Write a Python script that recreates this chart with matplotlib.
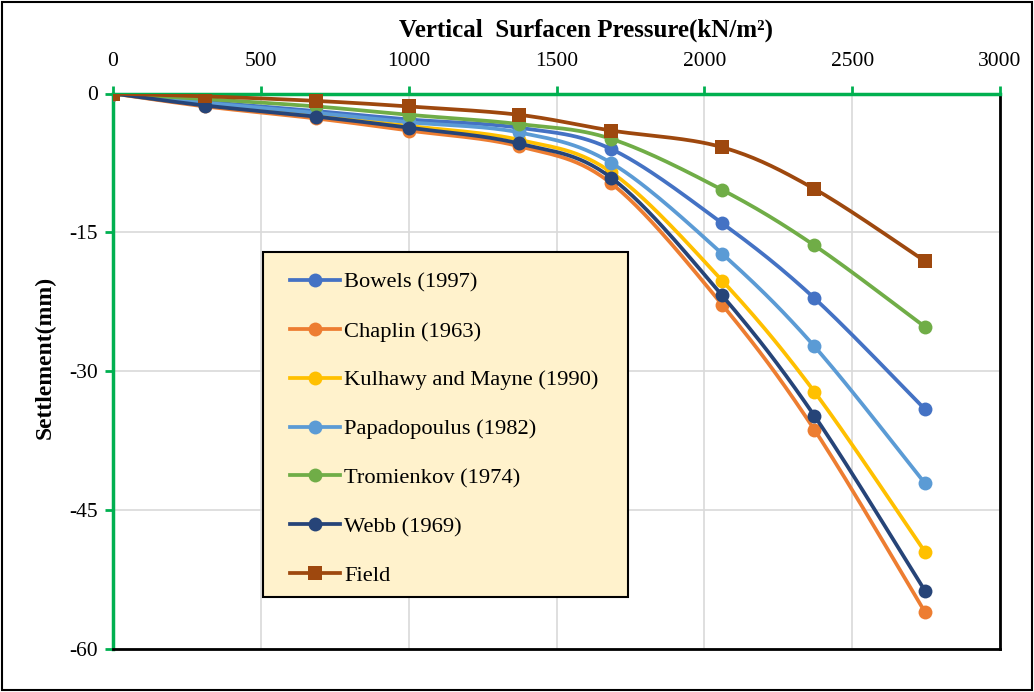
import numpy as np
import matplotlib
matplotlib.use("Agg")
import matplotlib.pyplot as plt
from matplotlib.patches import Rectangle

# ---- data ----
pressure = [0, 312, 688, 1000, 1373, 1685, 2060, 2372, 2746]
bowels = [0, -0.9, -1.9, -2.8, -3.7, -6.0, -14.0, -22.1, -34.1]
chaplin = [0, -1.4, -2.7, -4.0, -5.7, -9.7, -22.8, -36.3, -56.0]
kulhawy = [0, -1.2, -2.4, -3.5, -5.0, -8.5, -20.2, -32.2, -49.5]
papadopoulus = [0, -1.0, -2.1, -3.1, -4.2, -7.5, -17.3, -27.3, -42.1]
tromienkov = [0, -0.6, -1.4, -2.3, -3.3, -4.9, -10.4, -16.4, -25.2]
webb = [0, -1.3, -2.5, -3.7, -5.4, -9.1, -21.8, -34.8, -53.7]
field = [0, -0.3, -0.8, -1.4, -2.3, -4.0, -5.8, -10.3, -18.1]

series_names = ["Bowels (1997)", "Chaplin (1963)", "Kulhawy and Mayne (1990)",
                "Papadopoulus (1982)", "Tromienkov (1974)", "Webb (1969)", "Field"]
series_vals = [bowels, chaplin, kulhawy, papadopoulus, tromienkov, webb, field]
colors = ["#4472C4", "#ED7D31", "#FFC000", "#5B9BD5", "#70AD47", "#264478", "#9E480E"]
markers = ["o", "o", "o", "o", "o", "o", "s"]

xticks = [0, 500, 1000, 1500, 2000, 2500, 3000]
yticks = [0, -15, -30, -45, -60]


def smooth(x, y, n=30):
    """Catmull-Rom smoothing through the points (Excel-style smoothed line)."""
    P = np.column_stack([x, y]).astype(float)
    P = np.vstack([P[0], P, P[-1]])
    out = []
    for i in range(1, len(P) - 2):
        p0, p1, p2, p3 = P[i - 1], P[i], P[i + 1], P[i + 2]
        t = np.linspace(0, 1, n, endpoint=False)[:, None]
        seg = 0.5 * ((2 * p1) + (-p0 + p2) * t + (2 * p0 - 5 * p1 + 4 * p2 - p3) * t ** 2
                     + (-p0 + 3 * p1 - 3 * p2 + p3) * t ** 3)
        out.append(seg)
    out.append(P[-2][None, :])
    out = np.vstack(out)
    return out[:, 0], out[:, 1]


plt.rcParams['font.family'] = ['Liberation Serif', 'DejaVu Serif']
plt.rcParams['axes.unicode_minus'] = False

W, H = 1034, 692
fig = plt.figure(figsize=(W / 100, H / 100), dpi=100)
ax = fig.add_axes([113 / W, 1 - 649 / H, 887 / W, 555.5 / H])

green = "#00B050"
handles = []
for name, vals, c, m in zip(series_names, series_vals, colors, markers):
    sx, sy = smooth(pressure, vals)
    ax.plot(sx, sy, color=c, lw=2.7, solid_capstyle='round', zorder=3)
    ms = 10 if m == "o" else 10.5
    ax.plot(pressure, vals, linestyle='none', marker=m, color=c, ms=ms,
            markeredgewidth=0, zorder=3)
    h, = ax.plot([], [], color=c, lw=2.7, marker=m, ms=ms, markeredgewidth=0)
    handles.append(h)

ax.set_xlim(0, 3000)
ax.set_ylim(-60, 0)
ax.set_xticks(xticks)
ax.set_yticks(yticks)
ax.xaxis.tick_top()
ax.xaxis.set_label_position('top')
ax.tick_params(axis='x', direction='out', length=6, width=2, color=green,
               labelsize=15.5, pad=10)
ax.tick_params(axis='y', direction='out', length=6, width=2, color=green,
               labelsize=15.5, pad=5)
ax.grid(True, color="#D9D9D9", lw=1.2, zorder=0)
ax.set_axisbelow(True)

ax.spines['top'].set_color(green)
ax.spines['top'].set_linewidth(2.5)
ax.spines['left'].set_color(green)
ax.spines['left'].set_linewidth(2.5)
ax.spines['right'].set_color('black')
ax.spines['right'].set_linewidth(2)
ax.spines['bottom'].set_color('black')
ax.spines['bottom'].set_linewidth(2)
ax.spines['top'].set_zorder(2.5)
ax.spines['left'].set_zorder(2.5)

fig.text(586 / W, 1 - 30 / H, "Vertical  Surfacen Pressure(kN/m²)",
         ha='center', va='center', fontsize=18, fontweight='bold')
fig.text(45 / W, 1 - 357 / H, "Settlement(mm)", rotation=90,
         ha='center', va='center', fontsize=17, fontweight='bold')

# legend background box
fig.patches.append(Rectangle((263 / W, 1 - 597 / H), 365 / W, 345 / H,
                             transform=fig.transFigure, facecolor="#FFF2CC",
                             edgecolor='black', lw=1.5, zorder=1))

leg = fig.legend(handles, series_names, loc='upper left',
                 bbox_to_anchor=(290 / W, 1 - 272 / H), borderaxespad=0,
                 fontsize=16.2, frameon=False, handlelength=2.2,
                 handletextpad=0.2, labelspacing=1.25, borderpad=0)

fig.patches.append(Rectangle((2 / W, 2 / H), 1 - 4 / W, 1 - 4 / H,
                             transform=fig.transFigure, fill=False,
                             edgecolor='black', lw=1.5))

fig.savefig("out.png", dpi=100)
